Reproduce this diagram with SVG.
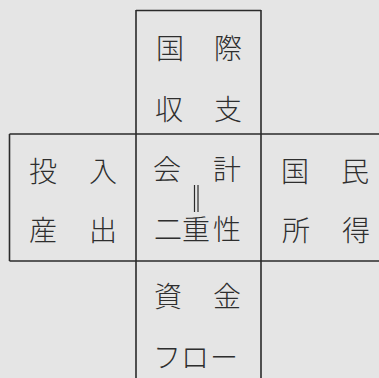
<svg xmlns="http://www.w3.org/2000/svg" width="379" height="378" viewBox="0 0 379 378">
<style>
.bg{fill:#e5e5e5}
.ln{stroke:#2b2b2b;stroke-width:1.6;fill:none}
.t{font-family:"Noto Sans CJK JP","Noto Sans CJK SC",sans-serif;font-size:28px;font-weight:300;fill:#2e2e2e;text-anchor:middle;dominant-baseline:central}
</style>
<rect class="bg" x="0" y="0" width="379" height="378"/>
<g id="connectors">
<path class="ln" d="M136,10.5 H261 M136,10 V378 M261,10 V378 M9.5,134 H379 M9.5,261 H379 M9.5,134 V261"/>
</g>
<g id="intl-balance">
<text class="t" x="170" y="47">国</text>
<text class="t" x="228" y="47">際</text>
<text class="t" x="169" y="108">収</text>
<text class="t" x="228" y="108">支</text>
</g>
<g id="input-output">
<text class="t" x="43" y="170">投</text>
<text class="t" x="103" y="170">入</text>
<text class="t" x="43" y="229">産</text>
<text class="t" x="103" y="229">出</text>
</g>
<g id="accounting-duality">
<text class="t" x="167" y="168">会</text>
<text class="t" x="227" y="168">計</text>
<path class="ln" d="M194.5,185 V212 M198,185 V212" style="stroke-width:1.2"/>
<text class="t" x="168" y="228">二</text>
<text class="t" x="196" y="228">重</text>
<text class="t" x="227" y="228">性</text>
</g>
<g id="national-income">
<text class="t" x="295" y="170">国</text>
<text class="t" x="355" y="170">民</text>
<text class="t" x="296" y="229">所</text>
<text class="t" x="356" y="229">得</text>
</g>
<g id="flow-of-funds">
<text class="t" x="168" y="295">資</text>
<text class="t" x="227" y="295">金</text>
<text class="t" x="167" y="356">フ</text>
<text class="t" x="195" y="356">ロ</text>
<text class="t" x="224" y="356">ー</text>
</g>
</svg>
